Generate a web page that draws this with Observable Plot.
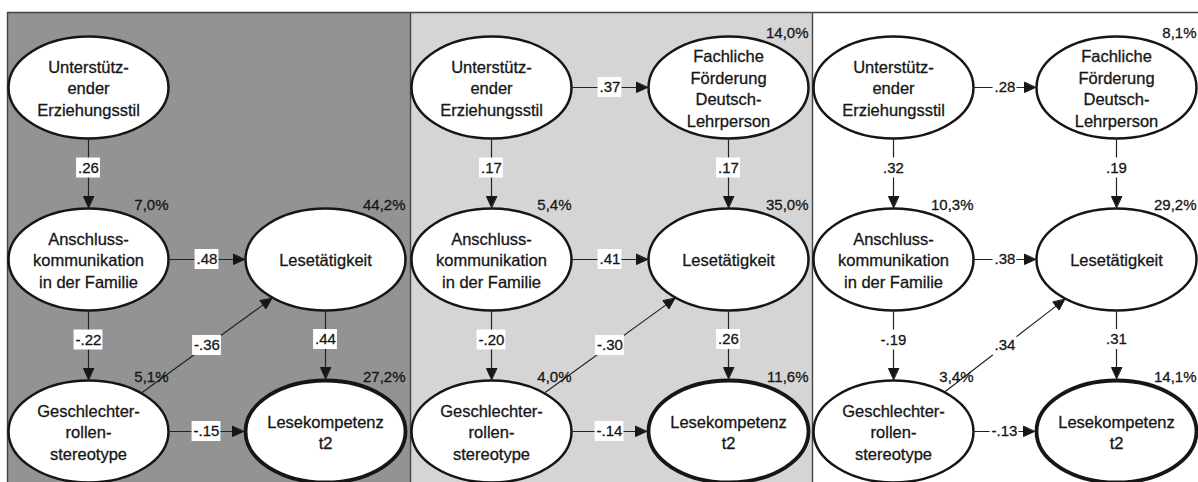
<!DOCTYPE html>
<html><head><meta charset="utf-8">
<script src="https://cdn.jsdelivr.net/npm/d3@7"></script>
<script src="https://cdn.jsdelivr.net/npm/@observablehq/plot@0.6"></script>
<style>html,body{margin:0;padding:0;background:#fff;overflow:hidden}#chart svg{display:block}</style>
</head><body><div id="chart"></div>
<script>
// ---------- data ----------
const nodeIds = ["U", "F", "A", "L", "G", "K"];
const nodeNames = [
  "Unterstütz-\nender\nErziehungsstil",
  "Fachliche\nFörderung\nDeutsch-\nLehrperson",
  "Anschluss-\nkommunikation\nin der Familie",
  "Lesetätigkeit",
  "Geschlechter-\nrollen-\nstereotype",
  "Lesekompetenz\nt2"
];
const panelIds = ["p1", "p2", "p3"];
const panelNodes = [
  ["U", "A", "L", "G", "K"],
  ["U", "F", "A", "L", "G", "K"],
  ["U", "F", "A", "L", "G", "K"]
];
const edgeFrom = ["U", "U", "F", "A", "A", "G", "L", "G"];
const edgeTo   = ["F", "A", "L", "L", "G", "L", "K", "K"];
const coefP1 = [null, 0.26, null, 0.48, -0.22, -0.36, 0.44, -0.15];
const coefP2 = [0.37, 0.17, 0.17, 0.41, -0.20, -0.30, 0.26, -0.14];
const coefP3 = [0.28, 0.32, 0.19, 0.38, -0.19, 0.34, 0.31, -0.13];
// explained variance (%) per node, in nodeIds order
const r2P1 = [null, null, 7.0, 44.2, 5.1, 27.2];
const r2P2 = [null, 14.0, 5.4, 35.0, 4.0, 11.6];
const r2P3 = [null, 8.1, 10.3, 29.2, 3.4, 14.1];

// ---------- layout (diagram geometry, in scale units) ----------
const layout = {
  panelX: [[7, 410], [410, 812], [812, 1198]],
  top: 12, bottom: 482,
  colX: [[88, 325], [491, 728], [893, 1116]],
  rowY: [87, 259, 431],
  grid: {U: [0, 0], F: [1, 0], A: [0, 1], L: [1, 1], G: [0, 2], K: [1, 2]},
  rx: 80, ry: 51,
  fills: ["#939393", "#d5d5d5", "#ffffff"],
  ink: "#161616"
};

const fmtCoef = v => (v < 0 ? "-" : "") + Math.abs(v).toFixed(2).replace(/^0/, "");
const fmtR2 = v => v.toFixed(1).replace(".", ",") + "%";
const coefs = [coefP1, coefP2, coefP3];
const r2s = [r2P1, r2P2, r2P3];

const cnv = document.createElement("canvas").getContext("2d");
cnv.font = "15px 'Liberation Sans'";
const measure = t => cnv.measureText(t).width;

const nodes = [];
panelIds.forEach((p, pi) => {
  panelNodes[pi].forEach(id => {
    const k = nodeIds.indexOf(id);
    const [c, r] = layout.grid[id];
    nodes.push({panel: p, id, name: nodeNames[k], cx: layout.colX[pi][c], cy: layout.rowY[r], r2: r2s[pi][k]});
  });
});
const nodeAt = (pi, id) => nodes.find(n => n.panel === panelIds[pi] && n.id === id);
function boundary(n, ux, uy, pad) {
  const t = 1 / Math.sqrt((ux / layout.rx) ** 2 + (uy / layout.ry) ** 2);
  return [n.cx + ux * (t + pad), n.cy + uy * (t + pad)];
}

const edges = [], heads = [], labels = [];
panelIds.forEach((p, pi) => {
  edgeFrom.forEach((f, i) => {
    const v = coefs[pi][i];
    if (v == null) return;
    const a = nodeAt(pi, f), b = nodeAt(pi, edgeTo[i]);
    const dx = b.cx - a.cx, dy = b.cy - a.cy, len = Math.hypot(dx, dy);
    const ux = dx / len, uy = dy / len;
    const s = boundary(a, ux, uy, 1);
    const e = boundary(b, -ux, -uy, b.id === "K" ? 2 : 1);
    const hl = 11, hw = 5;
    const base = [e[0] - ux * hl, e[1] - uy * hl];
    edges.push({x1: s[0], y1: s[1], x2: base[0], y2: base[1]});
    const id = p + "-" + i;
    heads.push({id, x: e[0], y: e[1]},
               {id, x: base[0] - uy * hw, y: base[1] + ux * hw},
               {id, x: base[0] + uy * hw, y: base[1] - ux * hw});
    const back = Math.abs(uy) > 0.99 ? hl / 2 : 0;
    const text = fmtCoef(v);
    labels.push({x: (s[0] + e[0]) / 2 - ux * back, y: (s[1] + e[1]) / 2 - uy * back, text, w: measure(text)});
  });
});

function ellipseSymbol(rx, ry) {
  const k = 0.5522847498;
  return {draw(ctx) {
    ctx.moveTo(rx, 0);
    ctx.bezierCurveTo(rx, ry * k, rx * k, ry, 0, ry);
    ctx.bezierCurveTo(-rx * k, ry, -rx, ry * k, -rx, 0);
    ctx.bezierCurveTo(-rx, -ry * k, -rx * k, -ry, 0, -ry);
    ctx.bezierCurveTo(rx * k, -ry, rx, -ry * k, rx, 0);
    ctx.closePath();
  }};
}
const ell = ellipseSymbol(layout.rx, layout.ry);

const chart = Plot.plot({
  width: 1198, height: 482, margin: 0,
  x: {type: "linear", domain: [0, 1198], range: [0, 1198], axis: null},
  y: {type: "linear", domain: [0, 482], range: [0, 482], axis: null},
  style: {fontFamily: "'Liberation Sans', Arial, sans-serif", background: "white", color: layout.ink},
  marks: [
    ...panelIds.map((p, pi) => Plot.rect([p], {
      x1: layout.panelX[pi][0], x2: layout.panelX[pi][1], y1: layout.top, y2: layout.bottom, fill: layout.fills[pi]
    })),
    Plot.ruleX([layout.panelX[0][0], layout.panelX[1][0], layout.panelX[2][0]], {y1: layout.top, y2: layout.bottom, stroke: "#444", strokeWidth: 1.4}),
    Plot.ruleY([layout.top], {x1: layout.panelX[0][0], x2: 1198, stroke: "#444", strokeWidth: 1.4}),
    Plot.link(edges, {x1: "x1", y1: "y1", x2: "x2", y2: "y2", stroke: "#222", strokeWidth: 1.2}),
    Plot.line(heads, {x: "x", y: "y", z: "id", fill: layout.ink, stroke: layout.ink, strokeWidth: 1, curve: "linear-closed"}),
    Plot.dot(nodes.filter(n => n.id !== "K"), {x: "cx", y: "cy", symbol: ell, fill: "white", stroke: layout.ink, strokeWidth: 2.5}),
    Plot.dot(nodes.filter(n => n.id === "K"), {x: "cx", y: "cy", symbol: ell, fill: "white", stroke: layout.ink, strokeWidth: 3.8}),
    Plot.text(nodes, {x: "cx", y: "cy", text: "name", fontSize: 16.5, lineHeight: 1.32, fill: layout.ink, stroke: layout.ink, strokeWidth: 0.3}),
    Plot.rect(labels, {x1: d => d.x - d.w / 2 - 1.5, x2: d => d.x + d.w / 2 + 1.5, y1: d => d.y - 10, y2: d => d.y + 10, fill: "white"}),
    Plot.text(labels, {x: "x", y: "y", text: "text", fontSize: 15, fill: layout.ink, stroke: layout.ink, strokeWidth: 0.3}),
    Plot.text(nodes.filter(n => n.r2 != null), {
      x: d => d.cx + 80, y: d => d.cy - layout.ry - 3, text: d => fmtR2(d.r2),
      textAnchor: "end", fontSize: 15, fill: layout.ink, stroke: layout.ink, strokeWidth: 0.3
    })
  ]
});
document.getElementById("chart").appendChild(chart);
</script>
</body></html>
